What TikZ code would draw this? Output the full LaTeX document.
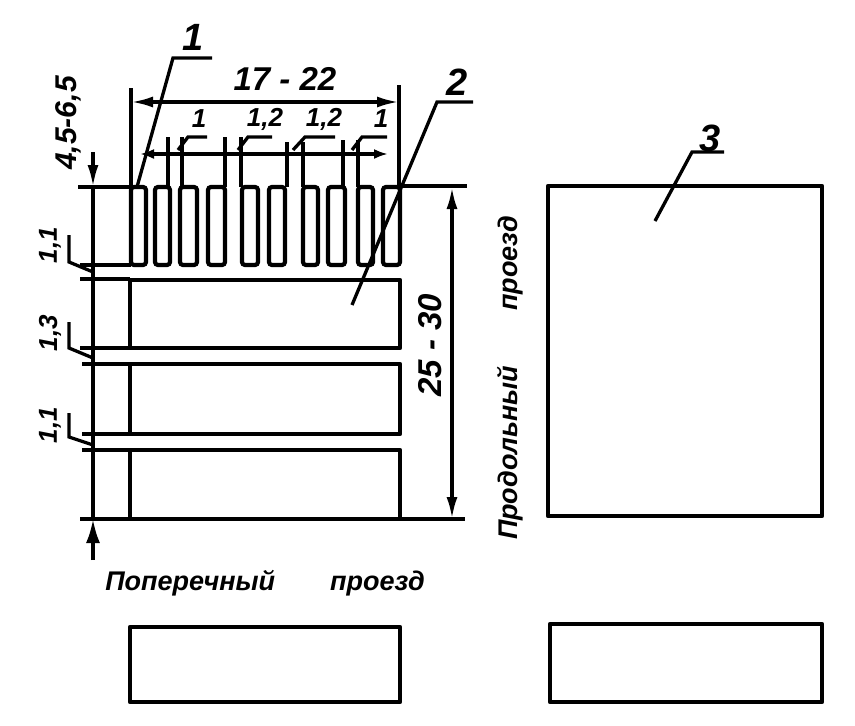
\documentclass[tikz,border=0pt]{standalone}
\usepackage{fontspec}
\setmainfont{Liberation Sans}
\usetikzlibrary{arrows.meta}
\tikzset{
 part/.style={draw=black,line width=4.3pt,line join=round},
 finger/.style={draw=black,line width=4.2pt,rounded corners=3pt},
 thinline/.style={draw=black,line width=3.3pt},
 dimline/.style={thinline,{Latex[length=22pt,width=11pt]}-{Latex[length=22pt,width=11pt]}},
 lbl/.style={font=\fontsize{38}{40}\selectfont\bfseries\itshape,inner sep=0pt},
 midl/.style={font=\fontsize{33}{35}\selectfont\bfseries\itshape,inner sep=0pt},
 sml/.style={font=\fontsize{26}{28}\selectfont\bfseries\itshape,inner sep=0pt},
 captext/.style={font=\fontsize{27}{29}\selectfont\itshape\bfseries,inner sep=0pt}
}
\begin{document}
\begin{tikzpicture}[x=1pt,y=-1pt]
\useasboundingbox (0,0) rectangle (855,726);
% main blocks
\foreach \a/\b in {280/348,364/434,450/519}{
 \draw[part] (130,\a) rectangle (400,\b);
}
\draw[part] (548,186) rectangle (822,516);
\draw[part] (130,627) rectangle (400,702);
\draw[part] (550,624) rectangle (822,702);
% fingers
\foreach \l/\r in {131/146,155/170,180/197,208/225,242/258,269/285,303/318,328/345,358/373,383/400}{
 \draw[finger] (\l,187) rectangle (\r,265);
}
% reference lines
\draw[thinline] (78,187) -- (131,187);
\draw[thinline] (400,186) -- (467,186);
\draw[thinline] (80,265) -- (131,265);
\draw[thinline] (80,279) -- (130,279);
\draw[thinline] (80,348) -- (130,348);
\draw[thinline] (82,364) -- (130,364);
\draw[thinline] (82,434) -- (130,434);
\draw[thinline] (82,450) -- (130,450);
\draw[thinline] (80,519) -- (465,519);
\draw[thinline] (93,187) -- (93,519);
\draw[thinline,-{Latex[length=22pt,width=11pt]}] (93,152) -- (93,187);
\draw[thinline,-{Latex[length=24pt,width=14pt]}] (93,560) -- (93,519);
% width dimensions
\draw[thinline] (131,88) -- (131,187);
\draw[thinline] (399,85) -- (399,187);
\draw[dimline] (131,102) -- (399,102);
\draw[thinline,{Latex[length=14pt,width=10pt]}-{Latex[length=14pt,width=10pt]}] (140,154) -- (388,154);
\foreach \x/\y in {168/137,182/137,225/137,241/137,287/142,303/142,343/140,358/140}{
 \draw[thinline] (\x,\y) -- (\x,187);
}
% small leaders
\draw[thinline] (178,150) -- (188,137) -- (207,137);
\draw[thinline] (238,150) -- (248,137) -- (272,137);
\draw[thinline] (293,150) -- (305,137) -- (335,137);
\draw[thinline] (352,150) -- (362,137) -- (387,137);
% left leaders
\draw[thinline] (69,235) -- (69,262) -- (93,272);
\draw[thinline] (69,322) -- (69,348) -- (93,358);
\draw[thinline] (69,413) -- (69,437) -- (93,445);
% numbered leaders
\draw[thinline] (137,187) -- (173,58) -- (212,58);
\draw[thinline] (352,305) -- (437,102) -- (473,102);
\draw[thinline] (655,221) -- (692,152) -- (724,152);
% labels
\node[lbl] (n1) at (193,37) {1};
\node[lbl] (n2) at (457,82) {2};
\node[lbl] (n3) at (710,138) {3};
\node[midl] (w) at (285,79) {17 - 22};
\node[sml] (a1) at (199,119) {1};
\node[sml] (a2) at (265,119) {1,2};
\node[sml] (a3) at (324,119) {1,2};
\node[sml] (a4) at (381,119) {1};
\node[midl,rotate=90] (h) at (68,123) {\fontsize{30}{32}\selectfont 4,5-6,5};
\node[sml,rotate=90] (b1) at (50,245) {1,1};
\node[sml,rotate=90] (b2) at (50,333) {1,3};
\node[sml,rotate=90] (b3) at (50,425) {1,1};
\node[midl,rotate=90] (t) at (430,345) {25 - 30};
\draw[dimline] (452,187) -- (452,519);
\node[captext,rotate=90] (c1) at (510,378) {Продольный\hspace{55pt}проезд};
\node[captext] (c2) at (265,583) {Поперечный\hspace{55pt}проезд};
\end{tikzpicture}
\end{document}
